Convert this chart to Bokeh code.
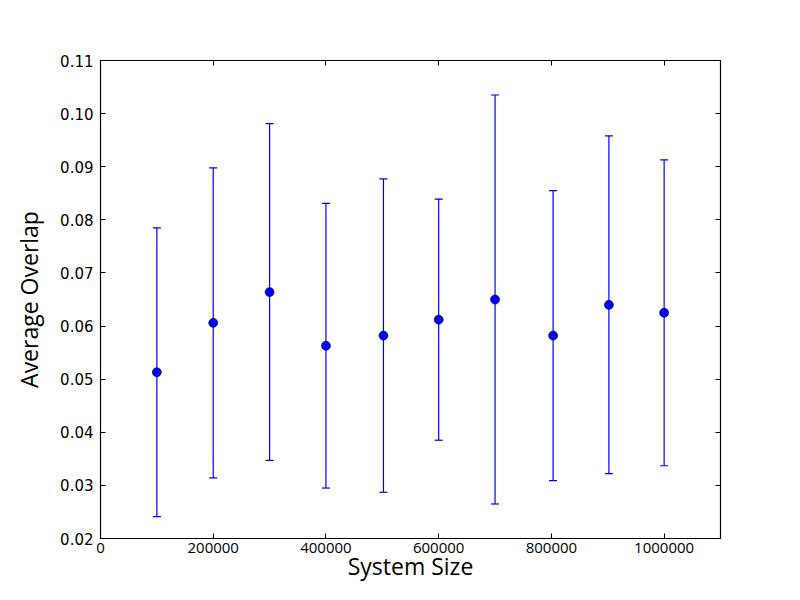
from bokeh.plotting import figure
from bokeh.models import (ColumnDataSource, Whisker, TeeHead, Range1d, FixedTicker,
                          LinearAxis, PrintfTickFormatter)
from bokeh.embed import file_html
from bokeh.resources import INLINE

# ---- data ----
system_size = [100000, 200000, 300000, 400000, 502000, 600000, 700000, 803000, 902000, 1000000]
avg_overlap = [0.0513, 0.0606, 0.0664, 0.0563, 0.0582, 0.0612, 0.0650, 0.0582, 0.0640, 0.0625]
overlap_err = [0.0272, 0.0292, 0.0317, 0.0268, 0.0295, 0.0227, 0.0385, 0.0273, 0.0318, 0.0288]
x_ticks = [0, 200000, 400000, 600000, 800000, 1000000]
y_ticks = [0.02, 0.03, 0.04, 0.05, 0.06, 0.07, 0.08, 0.09, 0.10, 0.11]
x_label = "System Size"
y_label = "Average Overlap"

upper = [m + e for m, e in zip(avg_overlap, overlap_err)]
lower = [m - e for m, e in zip(avg_overlap, overlap_err)]
src = ColumnDataSource(dict(x=system_size, y=avg_overlap, upper=upper, lower=lower))

BLUE = "#0000ff"

p = figure(width=784, height=584, output_backend="svg", toolbar_location=None,
           x_range=Range1d(0, 1100000), y_range=Range1d(0.02, 0.11),
           min_border_left=100, min_border_right=64, min_border_top=60, min_border_bottom=44)
p.background_fill_color = "white"
p.border_fill_color = "white"
p.outline_line_color = "black"
p.outline_line_width = 1.2
p.outline_line_alpha = 1.0
p.xgrid.visible = False
p.ygrid.visible = False

# bottom axis
xa = p.xaxis[0]
xa.ticker = FixedTicker(ticks=x_ticks)
xa.formatter = PrintfTickFormatter(format="%d")
xa.major_label_text_font = "Open Sans"
xa.major_label_text_font_size = "15px"
xa.major_label_text_color = "black"
xa.major_label_standoff = 4
xa.axis_label = x_label
xa.axis_label_text_font = "Open Sans"
xa.axis_label_text_font_size = "23px"
xa.axis_label_text_font_style = "normal"
xa.axis_label_text_color = "black"
xa.axis_label_standoff = -6
xa.axis_line_color = None
xa.major_tick_in = 5
xa.major_tick_out = 0
xa.minor_tick_line_color = None
xa.major_tick_line_color = "black"

# left axis
ya = p.yaxis[0]
ya.ticker = FixedTicker(ticks=y_ticks)
ya.formatter = PrintfTickFormatter(format="%.2f")
ya.major_label_text_font = "DejaVu Sans"
ya.major_label_text_font_size = "15px"
ya.major_label_text_color = "black"
ya.major_label_standoff = 7
ya.axis_label = y_label
ya.axis_label_text_font = "Open Sans"
ya.axis_label_text_font_size = "23px"
ya.axis_label_text_font_style = "normal"
ya.axis_label_text_color = "black"
ya.axis_label_standoff = 12
ya.axis_line_color = None
ya.major_tick_in = 5
ya.major_tick_out = 0
ya.minor_tick_line_color = None
ya.major_tick_line_color = "black"

# mirrored tick marks on top and right
top = LinearAxis(ticker=FixedTicker(ticks=x_ticks), major_label_text_font_size="0px",
                 major_label_standoff=0, major_tick_in=5, major_tick_out=0,
                 minor_tick_line_color=None, axis_line_color=None, major_tick_line_color="black")
right = LinearAxis(ticker=FixedTicker(ticks=y_ticks), major_label_text_font_size="0px",
                   major_label_standoff=0, major_tick_in=5, major_tick_out=0,
                   minor_tick_line_color=None, axis_line_color=None, major_tick_line_color="black")
p.add_layout(top, "above")
p.add_layout(right, "right")

w = Whisker(source=src, base="x", upper="upper", lower="lower", line_color=BLUE, line_width=1.2,
            upper_head=TeeHead(size=8, line_color=BLUE, line_width=1.2),
            lower_head=TeeHead(size=8, line_color=BLUE, line_width=1.2))
p.add_layout(w)

p.scatter("x", "y", source=src, size=9, fill_color=BLUE, line_color="black", line_width=0.6)

open("out.html", "w").write(file_html(p, INLINE))
